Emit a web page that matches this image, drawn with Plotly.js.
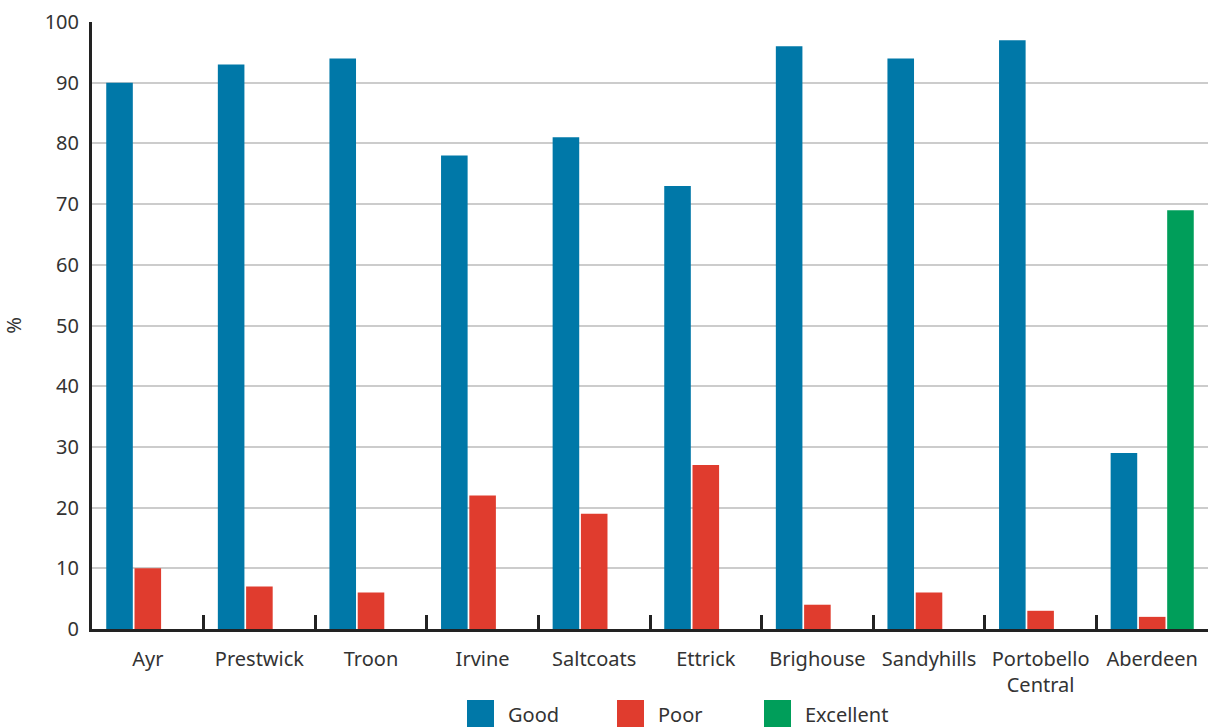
<!DOCTYPE html>
<html><head><meta charset="utf-8">
<script src="https://cdn.plot.ly/plotly-3.0.1.min.js"></script>
<style>html,body{margin:0;padding:0;background:#fff;}#chart{width:1211px;height:727px;}</style>
</head><body><div id="chart"></div>
<script>
const categories = ["Ayr","Prestwick","Troon","Irvine","Saltcoats","Ettrick","Brighouse","Sandyhills","Portobello<br>Central","Aberdeen"];
const good = [90,93,94,78,81,73,96,94,97,29];
const poor = [10,7,6,22,19,27,4,6,3,2];
const excellent = [null,null,null,null,null,null,null,null,null,69];
const yTicks = [0,10,20,30,40,50,60,70,80,90,100];
const seriesNames = ["Good","Poor","Excellent"];
const seriesColors = ["#0078a8","#e03c2e","#009e5a"];

const FONT = "Noto Sans, sans-serif";
const seriesData = [good, poor, excellent];
const traces = seriesData.map((d,i)=>({type:'bar', name:seriesNames[i], x:categories, y:d,
  marker:{color:seriesColors[i]}, showlegend:false}));

// plot area geometry (pixels) for the custom legend below the chart
const L = 92, R = 3, T = 22, B = 98, W = 1211, H = 727;
const pw = W - L - R, ph = H - T - B;
const px = v => (v - L) / pw;
const py = v => (H - B - v) / ph;
const legendX = [467, 617, 764];
const shapes = [], annotations = [];
legendX.forEach((lx,i)=>{
  shapes.push({type:'rect', xref:'paper', yref:'paper', x0:px(lx), x1:px(lx+27), y0:py(727), y1:py(700),
    fillcolor:seriesColors[i], line:{width:0}});
  annotations.push({xref:'paper', yref:'paper', x:px(lx+39), y:py(714), xanchor:'left', yanchor:'middle',
    text:seriesNames[i], showarrow:false, font:{size:20, color:'#333'}});
});

const layout = {
  width:W, height:H,
  margin:{l:L, r:R, t:T, b:B, autoexpand:false},
  paper_bgcolor:'#fff', plot_bgcolor:'#fff',
  font:{family:FONT, size:20, color:'#333'},
  barmode:'group', bargap:0.24, bargroupgap:0.06,
  showlegend:false,
  shapes:shapes, annotations:annotations,
  xaxis:{type:'category', showline:true, linewidth:3, linecolor:'#222',
         ticks:'inside', tickson:'boundaries', ticklen:14, tickwidth:3, tickcolor:'#222',
         tickfont:{size:20, color:'#333'}, ticklabelstandoff:10, showgrid:false, fixedrange:true, automargin:false},
  yaxis:{range:[0,100], tickvals:yTicks, showline:true, linewidth:3, linecolor:'#222',
         showgrid:true, gridcolor:'#cccccc', gridwidth:2, zeroline:false, ticks:'',
         ticklabelstandoff:6, tickfont:{size:20, color:'#333'}, automargin:false,
         title:{text:'%', font:{size:20, color:'#333'}, standoff:24}}
};
Plotly.newPlot('chart', traces, layout, {displayModeBar:false, staticPlot:true});
</script></body></html>
